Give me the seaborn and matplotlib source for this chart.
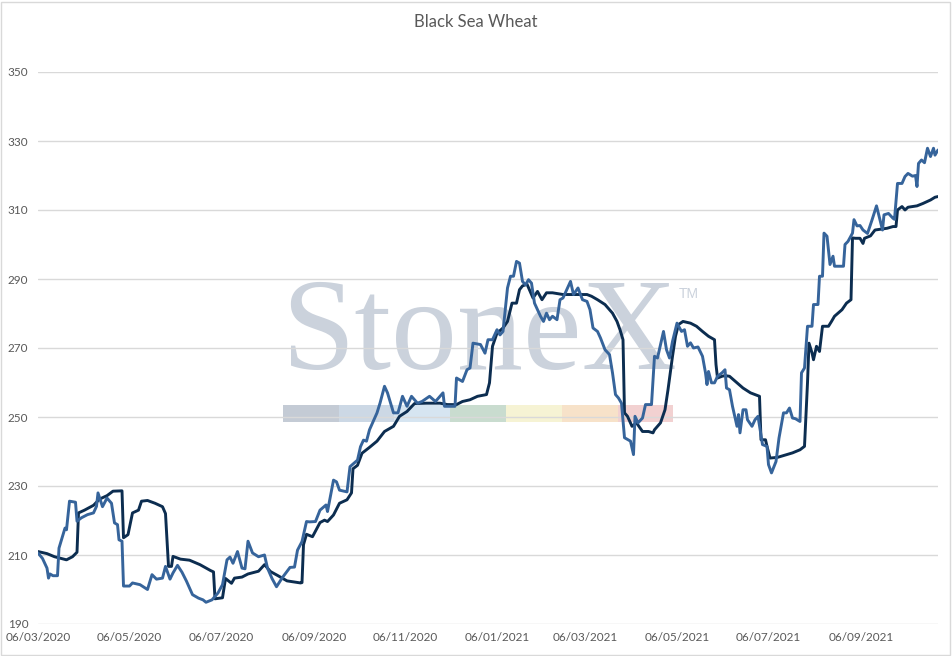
import pandas as pd
import numpy as np
import matplotlib.pyplot as plt
from matplotlib.patches import Rectangle
import seaborn as sns

title = "Black Sea Wheat"

# dark navy series
dates_dark = [
    "2020-03-06", "2020-03-12", "2020-03-17", "2020-03-25", "2020-03-29", "2020-04-01", "2020-04-02", "2020-04-06", "2020-04-12", "2020-04-16",
    "2020-04-21", "2020-04-25", "2020-05-01", "2020-05-02", "2020-05-05", "2020-05-08", "2020-05-12", "2020-05-14", "2020-05-18", "2020-05-23",
    "2020-05-28", "2020-05-30", "2020-06-01", "2020-06-03", "2020-06-04", "2020-06-09", "2020-06-15", "2020-06-22", "2020-06-29", "2020-07-01",
    "2020-07-02", "2020-07-07", "2020-07-09", "2020-07-13", "2020-07-15", "2020-07-20", "2020-07-24", "2020-07-31", "2020-08-04", "2020-08-08",
    "2020-08-13", "2020-08-19", "2020-08-28", "2020-08-29", "2020-08-30", "2020-09-01", "2020-09-05", "2020-09-10", "2020-09-13", "2020-09-15",
    "2020-09-19", "2020-09-23", "2020-09-28", "2020-10-01", "2020-10-02", "2020-10-05", "2020-10-08", "2020-10-13", "2020-10-18", "2020-10-23",
    "2020-10-29", "2020-11-02", "2020-11-07", "2020-11-12", "2020-11-20", "2020-11-29", "2020-12-04", "2020-12-10", "2020-12-14", "2020-12-19",
    "2020-12-24", "2020-12-30", "2021-01-01", "2021-01-03", "2021-01-06", "2021-01-10", "2021-01-13", "2021-01-16", "2021-01-19", "2021-01-21",
    "2021-01-23", "2021-01-26", "2021-01-30", "2021-02-02", "2021-02-05", "2021-02-08", "2021-02-12", "2021-02-19", "2021-02-28", "2021-03-07",
    "2021-03-10", "2021-03-14", "2021-03-19", "2021-03-24", "2021-03-27", "2021-03-29", "2021-03-31", "2021-04-01", "2021-04-03", "2021-04-06",
    "2021-04-09", "2021-04-13", "2021-04-17", "2021-04-20", "2021-04-21", "2021-04-25", "2021-04-28", "2021-04-30", "2021-05-03", "2021-05-05",
    "2021-05-07", "2021-05-10", "2021-05-15", "2021-05-19", "2021-05-23", "2021-05-27", "2021-05-31", "2021-06-01", "2021-06-02", "2021-06-05",
    "2021-06-07", "2021-06-10", "2021-06-15", "2021-06-19", "2021-06-24", "2021-06-27", "2021-06-30", "2021-07-01", "2021-07-04", "2021-07-05",
    "2021-07-07", "2021-07-12", "2021-07-18", "2021-07-22", "2021-07-27", "2021-07-30", "2021-08-01", "2021-08-02", "2021-08-04", "2021-08-05",
    "2021-08-07", "2021-08-09", "2021-08-11", "2021-08-15", "2021-08-17", "2021-08-19", "2021-08-24", "2021-08-27", "2021-08-30", "2021-08-31",
    "2021-09-02", "2021-09-05", "2021-09-07", "2021-09-08", "2021-09-12", "2021-09-15", "2021-09-23", "2021-09-27", "2021-09-29", "2021-09-30",
    "2021-10-03", "2021-10-05", "2021-10-07", "2021-10-13", "2021-10-17", "2021-10-22", "2021-10-25", "2021-10-27",
]
wheat_dark = [
    211, 210.4, 209.5, 208.6, 209.5, 210.8, 222.2, 223, 224.4, 226.2,
    227.2, 228.5, 228.6, 215, 215.9, 222.2, 223, 225.6, 225.8, 225,
    224, 222, 206.7, 206.7, 209.6, 208.8, 208.5, 207.2, 205.5, 205.1,
    197.3, 197.6, 203.2, 201.8, 203.3, 203.6, 204.5, 205.3, 207.2, 205.2,
    204, 202.5, 201.9, 202, 213, 216, 215.3, 219.4, 220.1, 219.7,
    221.6, 225, 226, 228, 235, 236, 239.5, 241.2, 243, 245.8,
    247.3, 250.2, 251.6, 253.9, 254, 254, 253.6, 253.6, 254.5, 255,
    256, 256.5, 259.9, 270.5, 274.3, 275.8, 277.7, 283, 283, 286.9,
    288, 288.5, 284.5, 286.4, 284, 286, 286, 285.5, 285.5, 285.5,
    285, 284, 282.6, 280.1, 277.7, 275.3, 272.4, 251.2, 250.2, 247.3,
    248.3, 245.8, 245.8, 245.4, 246.3, 248.3, 252.1, 257.9, 267.6, 273.4,
    276.8, 277.7, 277.2, 276.3, 274.8, 273.4, 272.4, 265.2, 261.3, 261.8,
    262, 261.8, 259.9, 258.4, 257, 256.5, 256, 243.4, 243.4, 241.5,
    238.1, 238.3, 239.1, 239.6, 240.5, 241.5, 259.9, 271.4, 268.6, 266.6,
    270.5, 269, 276.3, 276.3, 277.7, 279.2, 281.1, 283, 284, 301.9,
    301.8, 301.8, 300.3, 301.8, 302.5, 304.2, 304.7, 305.2, 305.2, 310,
    311, 310, 310.8, 311.2, 311.9, 312.9, 313.7, 313.9,
]

# medium blue series
dates_blue = [
    "2020-03-06", "2020-03-09", "2020-03-12", "2020-03-13", "2020-03-14", "2020-03-16", "2020-03-19", "2020-03-20", "2020-03-24", "2020-03-25",
    "2020-03-27", "2020-03-31", "2020-04-01", "2020-04-04", "2020-04-08", "2020-04-12", "2020-04-14", "2020-04-15", "2020-04-18", "2020-04-21",
    "2020-04-24", "2020-04-26", "2020-04-28", "2020-04-29", "2020-05-01", "2020-05-02", "2020-05-06", "2020-05-08", "2020-05-13", "2020-05-18",
    "2020-05-21", "2020-05-24", "2020-05-28", "2020-05-30", "2020-06-02", "2020-06-04", "2020-06-07", "2020-06-10", "2020-06-13", "2020-06-17",
    "2020-06-21", "2020-06-24", "2020-06-26", "2020-06-30", "2020-07-04", "2020-07-07", "2020-07-10", "2020-07-12", "2020-07-14", "2020-07-17",
    "2020-07-20", "2020-07-22", "2020-07-24", "2020-07-27", "2020-07-31", "2020-08-04", "2020-08-06", "2020-08-09", "2020-08-12", "2020-08-16",
    "2020-08-21", "2020-08-24", "2020-08-26", "2020-08-29", "2020-09-01", "2020-09-03", "2020-09-07", "2020-09-10", "2020-09-14", "2020-09-15",
    "2020-09-19", "2020-09-21", "2020-09-23", "2020-09-28", "2020-09-30", "2020-10-05", "2020-10-07", "2020-10-09", "2020-10-11", "2020-10-13",
    "2020-10-18", "2020-10-20", "2020-10-23", "2020-10-25", "2020-10-29", "2020-11-01", "2020-11-04", "2020-11-07", "2020-11-10", "2020-11-14",
    "2020-11-17", "2020-11-22", "2020-11-26", "2020-12-01", "2020-12-02", "2020-12-09", "2020-12-10", "2020-12-14", "2020-12-17", "2020-12-19",
    "2020-12-21", "2020-12-26", "2020-12-29", "2020-12-31", "2021-01-03", "2021-01-06", "2021-01-08", "2021-01-10", "2021-01-13", "2021-01-15",
    "2021-01-17", "2021-01-19", "2021-01-21", "2021-01-23", "2021-01-25", "2021-01-27", "2021-01-29", "2021-01-31", "2021-02-04", "2021-02-06",
    "2021-02-08", "2021-02-10", "2021-02-12", "2021-02-15", "2021-02-17", "2021-02-19", "2021-02-24", "2021-02-26", "2021-03-01", "2021-03-04",
    "2021-03-07", "2021-03-09", "2021-03-11", "2021-03-14", "2021-03-16", "2021-03-19", "2021-03-22", "2021-03-24", "2021-03-26", "2021-03-28",
    "2021-03-30", "2021-04-01", "2021-04-05", "2021-04-07", "2021-04-08", "2021-04-10", "2021-04-13", "2021-04-15", "2021-04-19", "2021-04-21",
    "2021-04-23", "2021-04-27", "2021-04-29", "2021-05-01", "2021-05-03", "2021-05-06", "2021-05-09", "2021-05-11", "2021-05-13", "2021-05-15",
    "2021-05-17", "2021-05-20", "2021-05-23", "2021-05-25", "2021-05-26", "2021-05-27", "2021-05-29", "2021-05-31", "2021-06-02", "2021-06-05",
    "2021-06-07", "2021-06-08", "2021-06-10", "2021-06-12", "2021-06-15", "2021-06-16", "2021-06-17", "2021-06-19", "2021-06-21", "2021-06-22",
    "2021-06-25", "2021-06-27", "2021-06-29", "2021-07-02", "2021-07-05", "2021-07-06", "2021-07-08", "2021-07-11", "2021-07-13", "2021-07-16",
    "2021-07-18", "2021-07-20", "2021-07-22", "2021-07-24", "2021-07-27", "2021-07-28", "2021-07-30", "2021-08-01", "2021-08-04", "2021-08-05",
    "2021-08-08", "2021-08-09", "2021-08-11", "2021-08-12", "2021-08-14", "2021-08-16", "2021-08-18", "2021-08-19", "2021-08-25", "2021-08-26",
    "2021-08-28", "2021-08-31", "2021-09-01", "2021-09-03", "2021-09-05", "2021-09-07", "2021-09-10", "2021-09-13", "2021-09-16", "2021-09-20",
    "2021-09-21", "2021-09-24", "2021-09-27", "2021-09-28", "2021-09-30", "2021-10-03", "2021-10-05", "2021-10-07", "2021-10-10", "2021-10-12",
    "2021-10-13", "2021-10-14", "2021-10-16", "2021-10-18", "2021-10-20", "2021-10-22", "2021-10-24", "2021-10-25", "2021-10-27",
]
wheat_blue = [
    210.6, 209, 206.2, 203.3, 204.5, 204, 204, 212, 217.8, 217.3,
    225.6, 225.3, 219.8, 220.8, 221.7, 222.2, 224.1, 228, 224, 226.5,
    225, 219.3, 218.8, 214.4, 214, 201, 201, 201.9, 201.4, 200,
    204.3, 203, 203.3, 206.7, 203, 204.8, 207, 205, 202.4, 198.5,
    197.5, 197, 196.3, 197, 199, 201.4, 208.6, 209.4, 207.6, 211,
    206.2, 206, 214, 210.6, 209.5, 210, 206.2, 203.2, 200.8, 203.5,
    206.4, 206.5, 211.4, 213.9, 219.7, 219.6, 219.7, 223, 224.5, 222.6,
    231.7, 231.2, 228.8, 228.3, 235.6, 237.5, 241.4, 243.3, 243, 246.3,
    251.2, 254, 258.9, 257, 251.2, 251.2, 256, 253.1, 256, 254,
    254.5, 256, 254.5, 257, 253.1, 253.1, 261.3, 260.3, 263.7, 264.2,
    271.4, 271, 268.5, 272.4, 272.4, 275.3, 273.8, 274.8, 287.4, 290.8,
    290.8, 295.1, 294.6, 289.3, 288.3, 289.8, 288.8, 283, 279.2, 277.7,
    280.1, 278.2, 279.2, 278.2, 284, 284.5, 289.3, 285.5, 287.4, 284,
    283.5, 281.1, 275.8, 274.8, 272.9, 269.5, 268.1, 262.8, 256.5, 255.5,
    254, 244, 243, 239.1, 250.2, 248.3, 249.7, 253.6, 253.6, 267.6,
    267.1, 274.8, 269.5, 267.1, 271.9, 277.2, 274.8, 275.3, 270.5, 271.5,
    270, 270.3, 267.6, 262.8, 259.4, 263.2, 259.9, 259.9, 261.8, 262.8,
    263.7, 258.4, 257.9, 253.1, 247.3, 250.7, 245.4, 252.1, 252.1, 249.2,
    247.3, 249.2, 250.2, 242, 241.5, 236.2, 233.8, 237.1, 243.9, 251.2,
    251.2, 252.6, 249.7, 249.5, 248.7, 262.8, 264.2, 276.3, 276.3, 282.6,
    282.6, 290.8, 290.8, 303.3, 302.4, 294.2, 296.6, 293.7, 293.7, 300,
    300.9, 303.3, 307.2, 305.4, 305.5, 304.2, 303.2, 307.1, 311.2, 304.2,
    308.6, 309, 307.6, 307.3, 317.7, 317.7, 319.7, 320.6, 319.8, 320,
    316.8, 323.5, 324.5, 323.7, 327.9, 325.5, 327.9, 325.9, 327.4,
]

tick_dates = ["2020-03-06", "2020-05-06", "2020-07-06", "2020-09-06", "2020-11-06",
              "2021-01-06", "2021-03-06", "2021-05-06", "2021-07-06", "2021-09-06"]
tick_labels = ["06/03/2020", "06/05/2020", "06/07/2020", "06/09/2020", "06/11/2020",
               "06/01/2021", "06/03/2021", "06/05/2021", "06/07/2021", "06/09/2021"]
y_ticks = [190, 210, 230, 250, 270, 290, 310, 330, 350]

# watermark stripe colours
stripe_colors = ["#c4cbd5", "#ccd8e5", "#d6e5f1", "#c9dccf", "#f6f3d4", "#f7e2c9", "#f2d1d1"]

sns.set_style("white")
plt.rcParams['font.family'] = ['Lato', 'DejaVu Sans']

df_dark = pd.DataFrame({'date': pd.to_datetime(dates_dark), 'price': wheat_dark})
df_blue = pd.DataFrame({'date': pd.to_datetime(dates_blue), 'price': wheat_blue})

W, H = 953, 656
fig = plt.figure(figsize=(W / 100, H / 100), dpi=100)
ax = fig.add_axes([38 / W, 32 / H, 900 / W, 552 / H])

# StoneX watermark behind everything
ax.text(0.270, 0.462, "StoneX", transform=ax.transAxes, fontsize=95,
        family='Liberation Serif', color='#cbd2dc', ha='left', va='baseline', zorder=0.2)
ax.text(0.712, 0.598, "TM", transform=ax.transAxes, fontsize=10,
        family='Liberation Sans', color='#cbd2dc', ha='left', va='center', zorder=0.2)
sw = (0.706 - 0.272) / len(stripe_colors)
for i, c in enumerate(stripe_colors):
    ax.add_patch(Rectangle((0.272 + i * sw, 0.366), sw, 0.031, transform=ax.transAxes,
                           facecolor=c, edgecolor='none', zorder=0.2))

sns.lineplot(data=df_dark, x='date', y='price', estimator=None, color='#0c2d50',
             linewidth=2.1, ax=ax, zorder=3)
sns.lineplot(data=df_blue, x='date', y='price', estimator=None, color='#36649b',
             linewidth=2.1, ax=ax, zorder=4)

ax.set_xlim(pd.Timestamp("2020-03-06"), pd.Timestamp("2021-10-27"))
ax.set_ylim(190, 350)
ax.set_yticks(y_ticks)
ax.set_xticks(pd.to_datetime(tick_dates))
ax.set_xticklabels(tick_labels)
ax.set_xlabel("")
ax.set_ylabel("")
ax.set_axisbelow(True)
ax.yaxis.grid(True, color='#d9d9d9', linewidth=1)
ax.xaxis.grid(False)
for s in ax.spines.values():
    s.set_visible(False)
ax.tick_params(axis='both', length=0, labelsize=8.5, labelcolor='#595959')
ax.tick_params(axis='y', pad=7)
ax.tick_params(axis='x', pad=6)

fig.text(476 / W, 1 - 22 / H, title, ha='center', va='center', fontsize=12, color='#595959')
fig.patches.append(Rectangle((1 / W, 1 / H), 949 / W, 653 / H, transform=fig.transFigure,
                             fill=False, edgecolor='#d9d9d9', linewidth=1))

fig.savefig('out.png', dpi=100)
